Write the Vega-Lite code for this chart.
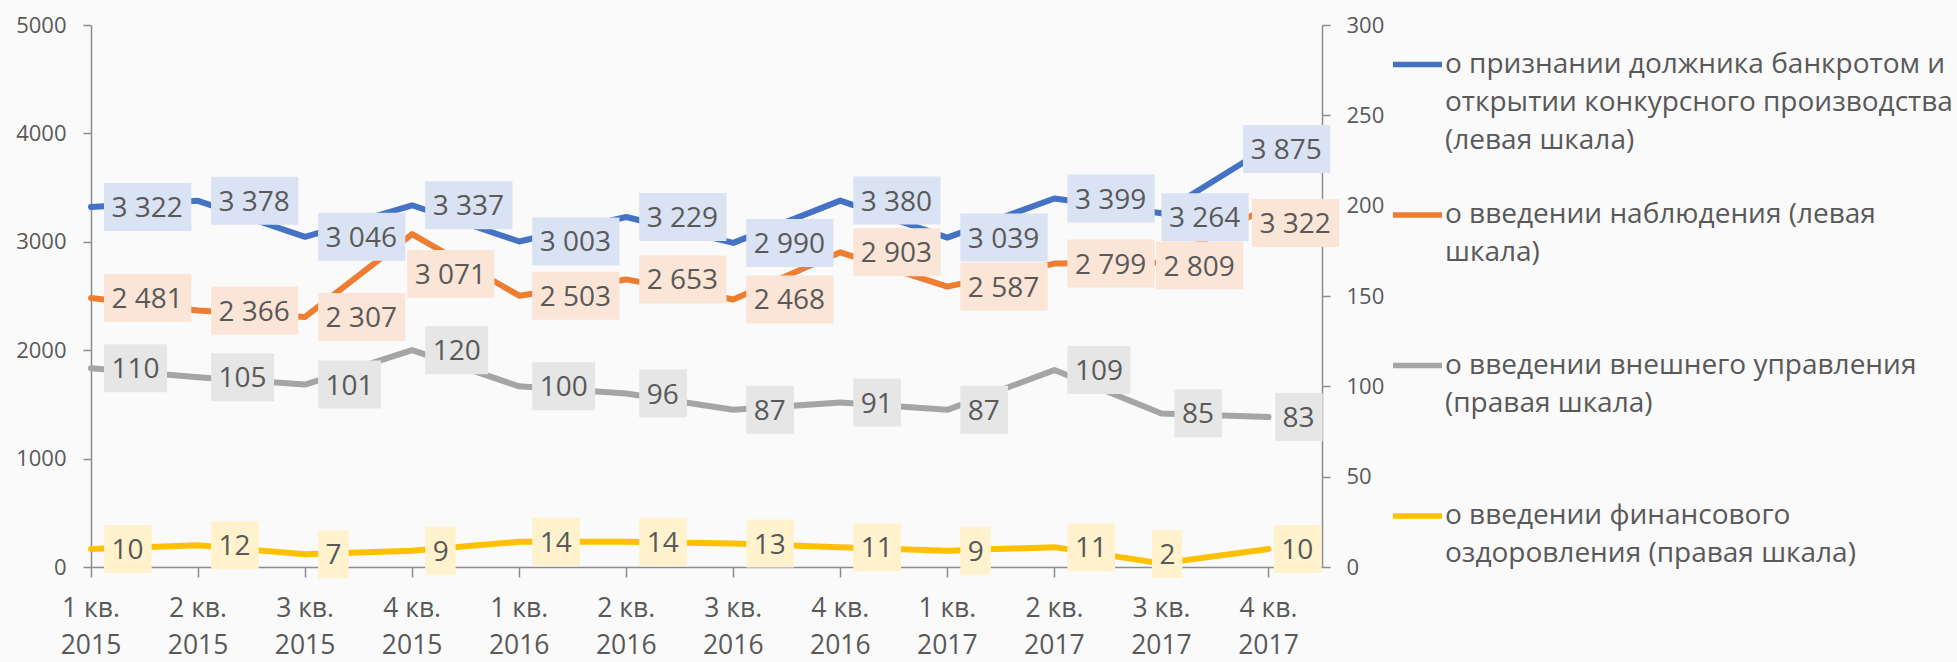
{
  "$schema": "https://vega.github.io/schema/vega-lite/v6.json",
  "width": 1231,
  "height": 542,
  "autosize": {"type": "none"},
  "padding": {"left": 91, "top": 25, "right": 635, "bottom": 95},
  "background": "#FAFAFA",
  "config": {
    "view": {"stroke": null},
    "font": "Open Sans",
    "locale": {"number": {"decimal": ",", "thousands": " ", "grouping": [3], "currency": ["", ""]}},
    "axis": {
      "grid": false,
      "domainColor": "#8C8C8C",
      "domainWidth": 1.5,
      "tickColor": "#8C8C8C",
      "tickWidth": 1.5,
      "labelColor": "#595959",
      "labelFont": "Open Sans"
    },
    "style": {"guide-label": {"lineHeight": 38.3}},
    "legend": {
      "orient": "none",
      "legendX": 1299,
      "legendY": 12,
      "direction": "vertical",
      "padding": 0,
      "title": null,
      "symbolType": "stroke",
      "symbolSize": 2401,
      "symbolStrokeWidth": 5.5,
      "labelFont": "Open Sans",
      "labelFontSize": 28,
      "labelColor": "#595959",
      "labelLimit": 1000,
      "labelOffset": 0,
      "rowPadding": 31.5,
      "gridAlign": "all"
    }
  },
  "data": {
    "values": [
      {"quarter": "1 кв. 2015", "bankrot": 3322, "nabl": 2481, "vneshn": 110, "fin": 10},
      {"quarter": "2 кв. 2015", "bankrot": 3378, "nabl": 2366, "vneshn": 105, "fin": 12},
      {"quarter": "3 кв. 2015", "bankrot": 3046, "nabl": 2307, "vneshn": 101, "fin": 7},
      {"quarter": "4 кв. 2015", "bankrot": 3337, "nabl": 3071, "vneshn": 120, "fin": 9},
      {"quarter": "1 кв. 2016", "bankrot": 3003, "nabl": 2503, "vneshn": 100, "fin": 14},
      {"quarter": "2 кв. 2016", "bankrot": 3229, "nabl": 2653, "vneshn": 96, "fin": 14},
      {"quarter": "3 кв. 2016", "bankrot": 2990, "nabl": 2468, "vneshn": 87, "fin": 13},
      {"quarter": "4 кв. 2016", "bankrot": 3380, "nabl": 2903, "vneshn": 91, "fin": 11},
      {"quarter": "1 кв. 2017", "bankrot": 3039, "nabl": 2587, "vneshn": 87, "fin": 9},
      {"quarter": "2 кв. 2017", "bankrot": 3399, "nabl": 2799, "vneshn": 109, "fin": 11},
      {"quarter": "3 кв. 2017", "bankrot": 3264, "nabl": 2809, "vneshn": 85, "fin": 2},
      {"quarter": "4 кв. 2017", "bankrot": 3875, "nabl": 3322, "vneshn": 83, "fin": 10}
    ]
  },
  "transform": [{"fold": ["bankrot", "nabl", "vneshn", "fin"], "as": ["series", "value"]}],
  "encoding": {
    "x": {
      "field": "quarter",
      "type": "ordinal",
      "bandPosition": 0,
      "scale": {
        "type": "band",
        "domain": ["1 кв. 2015", "2 кв. 2015", "3 кв. 2015", "4 кв. 2015", "1 кв. 2016", "2 кв. 2016", "3 кв. 2016", "4 кв. 2016", "1 кв. 2017", "2 кв. 2017", "3 кв. 2017", "4 кв. 2017"],
        "paddingInner": 0.5,
        "paddingOuter": 0,
        "align": 0
      },
      "axis": {
        "title": null,
        "bandPosition": 0,
        "labelAngle": 0,
        "labelAlign": "center",
        "labelOffset": -26.76,
        "labelFontSize": 26.5,
        "labelLineHeight": 37,
        "labelPadding": 18,
        "tickSize": 10,
        "labelExpr": "[slice(datum.label, 0, 5), slice(datum.label, 6)]"
      }
    }
  },
  "layer": [
    {
      "encoding": {
        "y": {
          "field": "value",
          "type": "quantitative",
          "scale": {"domain": [0, 5000], "nice": false},
          "axis": {"orient": "left", "title": null, "values": [0, 1000, 2000, 3000, 4000, 5000], "format": "d", "tickSize": 8, "labelPadding": 17, "labelFontSize": 22}
        }
      },
      "layer": [
        {
          "transform": [{"filter": {"field": "series", "oneOf": ["bankrot", "nabl"]}}],
          "mark": {"type": "line", "strokeWidth": 6, "strokeCap": "round", "strokeJoin": "round"},
          "encoding": {
            "color": {
              "field": "series",
              "type": "nominal",
              "scale": {"domain": ["bankrot", "nabl", "vneshn", "fin"], "range": ["#4472C4", "#ED7D31", "#A5A5A5", "#FFC000"]},
              "legend": {
                "labelExpr": "datum.label == 'bankrot' ? ['о признании должника банкротом и', 'открытии конкурсного производства', '(левая шкала)'] : datum.label == 'nabl' ? ['о введении наблюдения (левая', 'шкала)'] : datum.label == 'vneshn' ? ['о введении внешнего управления', '(правая шкала)'] : ['о введении финансового', 'оздоровления (правая шкала)']"
              }
            }
          }
        },
        {
          "transform": [{"filter": {"field": "series", "oneOf": ["bankrot", "nabl"]}}],
          "mark": {
            "type": "point",
            "shape": "M13,-24H100.3V24H13Z",
            "size": 4,
            "filled": true,
            "opacity": 1,
            "strokeWidth": 0,
            "xOffset": {"expr": "datum.series == 'nabl' && datum.quarter == '4 кв. 2015' ? -18 : datum.quarter == '3 кв. 2017' ? (datum.series == 'bankrot' ? -13 : -18.5) : datum.quarter == '4 кв. 2017' ? (datum.series == 'bankrot' ? -38.5 : -29.6) : 0"},
            "yOffset": {"expr": "datum.series == 'nabl' && datum.quarter == '4 кв. 2015' ? 40 : datum.quarter == '3 кв. 2017' ? (datum.series == 'bankrot' ? 4 : 3) : datum.quarter == '4 кв. 2017' ? (datum.series == 'bankrot' ? 2 : 16) : 0"}
          },
          "encoding": {
            "fill": {
              "field": "series",
              "type": "nominal",
              "scale": {"domain": ["bankrot", "nabl", "vneshn", "fin"], "range": ["#DAE3F3", "#FBE5D6", "#E6E6E6", "#FFF2CC"]},
              "legend": null
            }
          }
        },
        {
          "transform": [{"filter": {"field": "series", "oneOf": ["bankrot", "nabl"]}}],
          "mark": {
            "type": "text",
            "align": "left",
            "baseline": "middle",
            "dx": 20.5,
            "dy": 2,
            "font": "Open Sans",
            "fontSize": 28,
            "color": "#595959",
            "xOffset": {"expr": "datum.series == 'nabl' && datum.quarter == '4 кв. 2015' ? -18 : datum.quarter == '3 кв. 2017' ? (datum.series == 'bankrot' ? -13 : -18.5) : datum.quarter == '4 кв. 2017' ? (datum.series == 'bankrot' ? -38.5 : -29.6) : 0"},
            "yOffset": {"expr": "datum.series == 'nabl' && datum.quarter == '4 кв. 2015' ? 40 : datum.quarter == '3 кв. 2017' ? (datum.series == 'bankrot' ? 4 : 3) : datum.quarter == '4 кв. 2017' ? (datum.series == 'bankrot' ? 2 : 16) : 0"}
          },
          "encoding": {"text": {"field": "value", "type": "quantitative", "format": ",d"}}
        }
      ]
    },
    {
      "encoding": {
        "y": {
          "field": "value",
          "type": "quantitative",
          "scale": {"domain": [0, 300], "nice": false},
          "axis": {"orient": "right", "title": null, "values": [0, 50, 100, 150, 200, 250, 300], "format": "d", "tickSize": 8, "labelPadding": 16, "labelFontSize": 22}
        }
      },
      "layer": [
        {
          "transform": [{"filter": {"field": "series", "oneOf": ["vneshn", "fin"]}}],
          "mark": {"type": "line", "strokeWidth": 6, "strokeCap": "round", "strokeJoin": "round"},
          "encoding": {
            "color": {
              "field": "series",
              "type": "nominal",
              "scale": {"domain": ["bankrot", "nabl", "vneshn", "fin"], "range": ["#4472C4", "#ED7D31", "#A5A5A5", "#FFC000"]}
            }
          }
        },
        {
          "transform": [{"filter": {"field": "series", "oneOf": ["vneshn", "fin"]}}, {"filter": "datum.value >= 100"}],
          "mark": {
            "type": "point",
            "shape": "M13,-24H76V24H13Z",
            "size": 4,
            "filled": true,
            "opacity": 1,
            "strokeWidth": 0
          },
          "encoding": {
            "fill": {
              "field": "series",
              "type": "nominal",
              "scale": {"domain": ["bankrot", "nabl", "vneshn", "fin"], "range": ["#DAE3F3", "#FBE5D6", "#E6E6E6", "#FFF2CC"]},
              "legend": null
            }
          }
        },
        {
          "transform": [{"filter": {"field": "series", "oneOf": ["vneshn", "fin"]}}, {"filter": "datum.value >= 10 && datum.value < 100"}],
          "mark": {
            "type": "point",
            "shape": "M13,-24H60.7V24H13Z",
            "size": 4,
            "filled": true,
            "opacity": 1,
            "strokeWidth": 0,
            "xOffset": {"expr": "datum.quarter == '4 кв. 2017' ? (datum.series == 'vneshn' ? -6.4 : -7.7) : 0"}
          },
          "encoding": {
            "fill": {
              "field": "series",
              "type": "nominal",
              "scale": {"domain": ["bankrot", "nabl", "vneshn", "fin"], "range": ["#DAE3F3", "#FBE5D6", "#E6E6E6", "#FFF2CC"]},
              "legend": null
            }
          }
        },
        {
          "transform": [{"filter": {"field": "series", "oneOf": ["vneshn", "fin"]}}, {"filter": "datum.value < 10"}],
          "mark": {
            "type": "point",
            "shape": "M13,-24H43.5V24H13Z",
            "size": 4,
            "filled": true,
            "opacity": 1,
            "strokeWidth": 0,
            "xOffset": {"expr": "datum.series == 'fin' && datum.quarter == '3 кв. 2017' ? -22.5 : 0"},
            "yOffset": {"expr": "datum.series == 'fin' && datum.quarter == '3 кв. 2017' ? -9.5 : 0"}
          },
          "encoding": {
            "fill": {
              "field": "series",
              "type": "nominal",
              "scale": {"domain": ["bankrot", "nabl", "vneshn", "fin"], "range": ["#DAE3F3", "#FBE5D6", "#E6E6E6", "#FFF2CC"]},
              "legend": null
            }
          }
        },
        {
          "transform": [{"filter": {"field": "series", "oneOf": ["vneshn", "fin"]}}],
          "mark": {
            "type": "text",
            "align": "left",
            "baseline": "middle",
            "dx": 20.5,
            "dy": 2,
            "font": "Open Sans",
            "fontSize": 28,
            "color": "#595959",
            "xOffset": {"expr": "datum.quarter == '4 кв. 2017' ? (datum.series == 'vneshn' ? -6.4 : -7.7) : (datum.series == 'fin' && datum.quarter == '3 кв. 2017') ? -22.5 : 0"},
            "yOffset": {"expr": "datum.series == 'fin' && datum.quarter == '3 кв. 2017' ? -9.5 : 0"}
          },
          "encoding": {"text": {"field": "value", "type": "quantitative", "format": "d"}}
        }
      ]
    }
  ],
  "resolve": {"scale": {"y": "independent"}}
}
